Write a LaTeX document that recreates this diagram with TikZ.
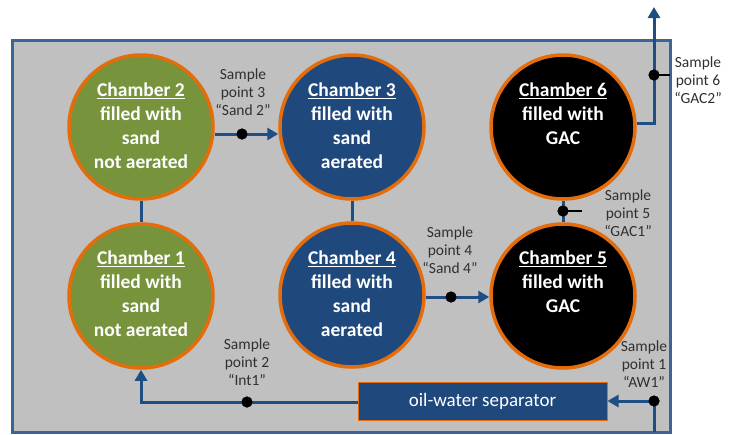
\documentclass[tikz,border=0pt]{standalone}
\usepackage{fontspec}
\setmainfont{Carlito}
\usetikzlibrary{arrows.meta,calc}
\definecolor{boxgray}{HTML}{C0C0C0}
\definecolor{framebl}{HTML}{3C6496}
\definecolor{linebl}{HTML}{1F4E85}
\definecolor{chblue}{HTML}{1F497D}
\definecolor{chgreen}{HTML}{77933C}
\definecolor{chorange}{HTML}{E46C0A}
\definecolor{labgray}{HTML}{303030}
\begin{document}
\begin{tikzpicture}[x=1pt,y=-1pt,
  chamber/.style={circle,draw=chorange,line width=3.5pt,minimum size=144pt,inner sep=0pt},
  ctext/.style={text=white,font=\fontsize{19.5}{24}\selectfont\bfseries,align=center,inner sep=0pt,anchor=north},
  pipe/.style={draw=linebl,line width=3pt},
  flow/.style={pipe,-{Triangle[length=11pt,width=12pt]}},
  dotnode/.style={circle,fill=black,minimum size=11pt,inner sep=0pt},
  slabel/.style={text=labgray,font=\fontsize{15.5}{18}\selectfont,align=center,inner sep=0pt},
  tick/.style={draw=black,line width=2pt}]
\useasboundingbox (0,0) rectangle (730,434);
\draw[fill=boxgray,draw=framebl,line width=3pt] (12,40) rectangle (670,432);
% chambers
\node[chamber,fill=chgreen] (c2) at (141,127) {};
\node[chamber,fill=chblue] (c3) at (352,127) {};
\node[chamber,fill=black] (c6) at (563,127) {};
\node[chamber,fill=chgreen] (c1) at (141,296) {};
\node[chamber,fill=chblue] (c4) at (352,295) {};
\node[chamber,fill=black] (c5) at (563,296) {};
% separator
\node[draw=chorange,line width=1pt,fill=chblue,minimum width=249pt,minimum height=38pt,inner sep=0pt,text=white,font=\fontsize{19}{23}\selectfont] (sep) at (482.5,401.5) {oil-water separator};
% connectors
\draw[pipe] (c1.north) -- (c2.south);
\draw[pipe] (c3.south) -- (c4.north);
\node[dotnode] (d3) at (242,134) {};
\draw[flow] (d3 -| c2.east) -- (d3 -| c3.west);
\node[dotnode] (d4) at (451,297) {};
\draw[flow] (d4 -| c4.east) -- (d4 -| c5.west);
\draw[pipe] (c5.north) -- (c6.south);
\node[dotnode] (d5) at (563,211) {};
\coordinate (t5) at (582,211);
\draw[tick] (d5.center) -- (t5);
\coordinate (outtop) at (654,7);
\coordinate (outbend) at (654,123);
\draw[flow] (outbend -| c6.east) -- (outbend) -- (outtop);
\node[dotnode] (d6) at (654,75) {};
\coordinate (t6) at (670,75);
\draw[tick] (d6.center) -- (t6);
\coordinate (inbot) at (654,432);
\node[dotnode] (d1) at (654,401) {};
\draw[flow] (inbot) -- (d1.center) -- (d1 -| sep.east);
\coordinate (bend1) at (141,402);
\node[dotnode] (d2) at (247,402) {};
\draw[flow] (d2 -| sep.west) -- (bend1) -- (c1.south);
\node[dotnode] at (d2) {};
\node[dotnode] at (d1) {};
\node[dotnode] at (d3) {};
\node[dotnode] at (d4) {};
\node[dotnode] at (d5) {};
\node[dotnode] at (d6) {};
% chamber texts
\node[ctext] (t2) at ([yshift=44pt]c2.center) {\underline{Chamber 2}\\filled with\\sand\\not aerated};
\node[ctext] (t3) at ([yshift=44pt]c3.center) {\underline{Chamber 3}\\filled with\\sand\\aerated};
\node[ctext] (t6) at ([yshift=44pt]c6.center) {\underline{Chamber 6}\\filled with\\GAC};
\node[ctext] (t1) at ([yshift=45pt]c1.center) {\underline{Chamber 1}\\filled with\\sand\\not aerated};
\node[ctext] (t4) at ([yshift=44pt]c4.center) {\underline{Chamber 4}\\filled with\\sand\\aerated};
\node[ctext] (t5) at ([yshift=45pt]c5.center) {\underline{Chamber 5}\\filled with\\GAC};
% sample labels
\node[slabel] (s3) at (243,92) {Sample\\point 3\\“Sand 2”};
\node[slabel] (s2) at (247,362) {Sample\\point 2\\“Int1”};
\node[slabel] (s4) at (450,250) {Sample\\point 4\\“Sand 4”};
\node[slabel] (s5) at (628,213) {Sample\\point 5\\“GAC1”};
\node[slabel] (s6) at (698,80) {Sample\\point 6\\“GAC2”};
\node[slabel] (s1) at (644,364) {Sample\\point 1\\“AW1”};
\end{tikzpicture}
\end{document}
